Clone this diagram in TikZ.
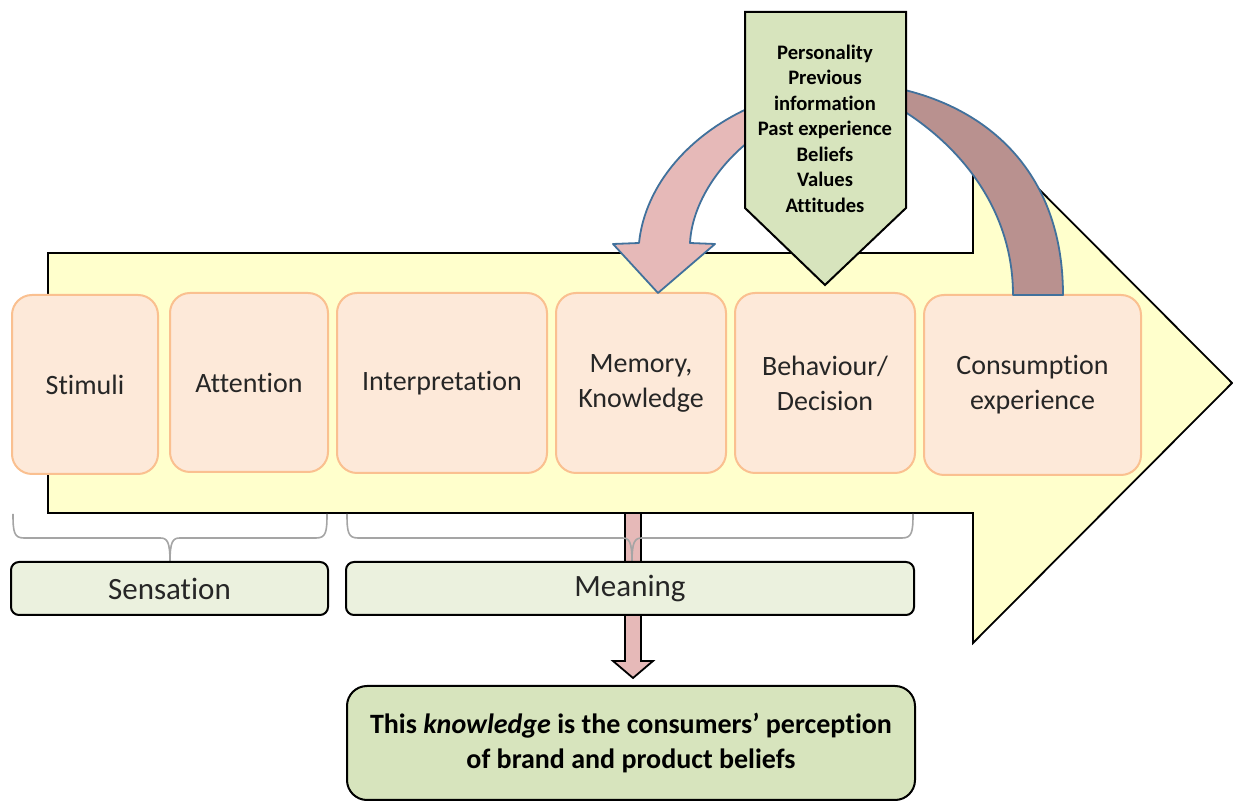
\documentclass[tikz,border=0pt]{standalone}
\usepackage{fontspec}
\setmainfont{Carlito}[Ligatures=NoCommon]
\begin{document}
\definecolor{flowfill}{RGB}{255,255,204}
\definecolor{stagefill}{RGB}{253,233,217}
\definecolor{stagedraw}{RGB}{250,192,144}
\definecolor{factorfill}{RGB}{215,228,189}
\definecolor{groupfill}{RGB}{235,241,222}
\definecolor{pinkfill}{RGB}{230,185,184}
\definecolor{brownfill}{RGB}{185,145,143}
\definecolor{arcdraw}{RGB}{65,113,156}
\definecolor{bracegray}{RGB}{165,165,165}
\begin{tikzpicture}[x=0.5pt,y=-0.5pt,
  stage/.style={draw=stagedraw, fill=stagefill, line width=1pt, rounded corners=10pt,
    align=center, font=\fontsize{14}{17.5}\selectfont, text=black!85, inner sep=0pt},
  groupbox/.style={draw=black, fill=groupfill, line width=1pt, rounded corners=4pt,
    font=\fontsize{15.5}{18}\selectfont, text=black!85, inner sep=0pt,
    minimum height=26.5pt},
  resultbox/.style={draw=black, fill=factorfill, line width=1pt, rounded corners=10pt,
    align=center, font=\fontsize{14}{17.5}\selectfont\bfseries, inner sep=0pt},
  factortext/.style={align=center, font=\fontsize{10.3}{12.75}\selectfont\bfseries, inner sep=0pt},
  bentarrow/.style={draw=arcdraw, line width=0.9pt, line join=round},
  brace/.style={draw=bracegray, line width=0.8pt}
]
\useasboundingbox (0,0) rectangle (1233,801);

% main process arrow
\draw[fill=flowfill, line width=0.9pt, line join=miter]
  (48,253) -- (973,253) -- (973,123) -- (1232,383) -- (973,643) -- (973,513) -- (48,513) -- cycle;

% down arrow from the flow to the result box
\draw[fill=pinkfill, line width=0.9pt]
  (625,513) -- (641,513) -- (641,661) -- (653,661) -- (633,678) -- (613,661) -- (625,661) -- cycle;

% stages
\node[stage, minimum width=73pt,  minimum height=89.5pt] (stimuli)  at (85,384.5)  {Stimuli};
\node[stage, minimum width=79pt,  minimum height=89.5pt] (attention) at (249,382.5) {Attention};
\node[stage, minimum width=105pt, minimum height=90pt]   (interp)   at (442,383)    {Interpretation};
\node[stage, minimum width=85pt,  minimum height=90pt]   (memory)   at (641,383)    {Memory,\\Knowledge};
\node[stage, minimum width=90pt,  minimum height=90pt]   (behav)    at (825,383)    {Behaviour/\\Decision};
\node[stage, minimum width=108.5pt, minimum height=90pt] (consump)  at (1032.5,385) {Consumption\\experience};

% feedback arc towards consumption
\draw[bentarrow, fill=brownfill]
  (891,87) .. controls (985,105) and (1063,170) .. (1063,295)
  -- (1013,295) .. controls (1013,205) and (955,140) .. (892,104) -- cycle;

% curved arrow into memory
\draw[bentarrow, fill=pinkfill]
  (758,104) .. controls (690,132) and (645,185) .. (639,243)
  -- (613,244) -- (658,293) -- (715,244) -- (690,243)
  .. controls (692,203) and (720,162) .. (756,136) -- cycle;

% influencing factors
\draw[fill=factorfill, line width=1pt, line join=miter]
  (745,12) -- (906,12) -- (906,208) -- (825,285) -- (745,208) -- cycle;
\node[factortext] (factors) at (825,128.5)
  {Personality\\Previous\\information\\Past experience\\Beliefs\\Values\\Attitudes};

% braces
\draw[brace] (13,514) .. controls (13,532) and (14,538) .. (24,538) -- (160,538)
  .. controls (167,538) and (170,541) .. (170,562);
\draw[brace] (170,562) .. controls (170,541) and (173,538) .. (180,538) -- (316,538)
  .. controls (326,538) and (327,532) .. (327,514);
\draw[brace] (347,514) .. controls (347,532) and (348,538) .. (358,538) -- (622,538)
  .. controls (629,538) and (632,541) .. (632,562);
\draw[brace] (632,562) .. controls (632,541) and (635,538) .. (642,538) -- (902,538)
  .. controls (912,538) and (913,532) .. (913,514);

% groups
\node[groupbox, minimum width=158.5pt] (sensation) at (169.5,588.5) {Sensation};
\node[groupbox, minimum width=284pt]   (meaning)   at (630,588.5)   {Meaning};

% result
\node[resultbox, minimum width=284pt, minimum height=57pt] (result) at (631,743)
  {This \textit{knowledge} is the consumers’ perception\\of brand and product beliefs};
\end{tikzpicture}
\end{document}
